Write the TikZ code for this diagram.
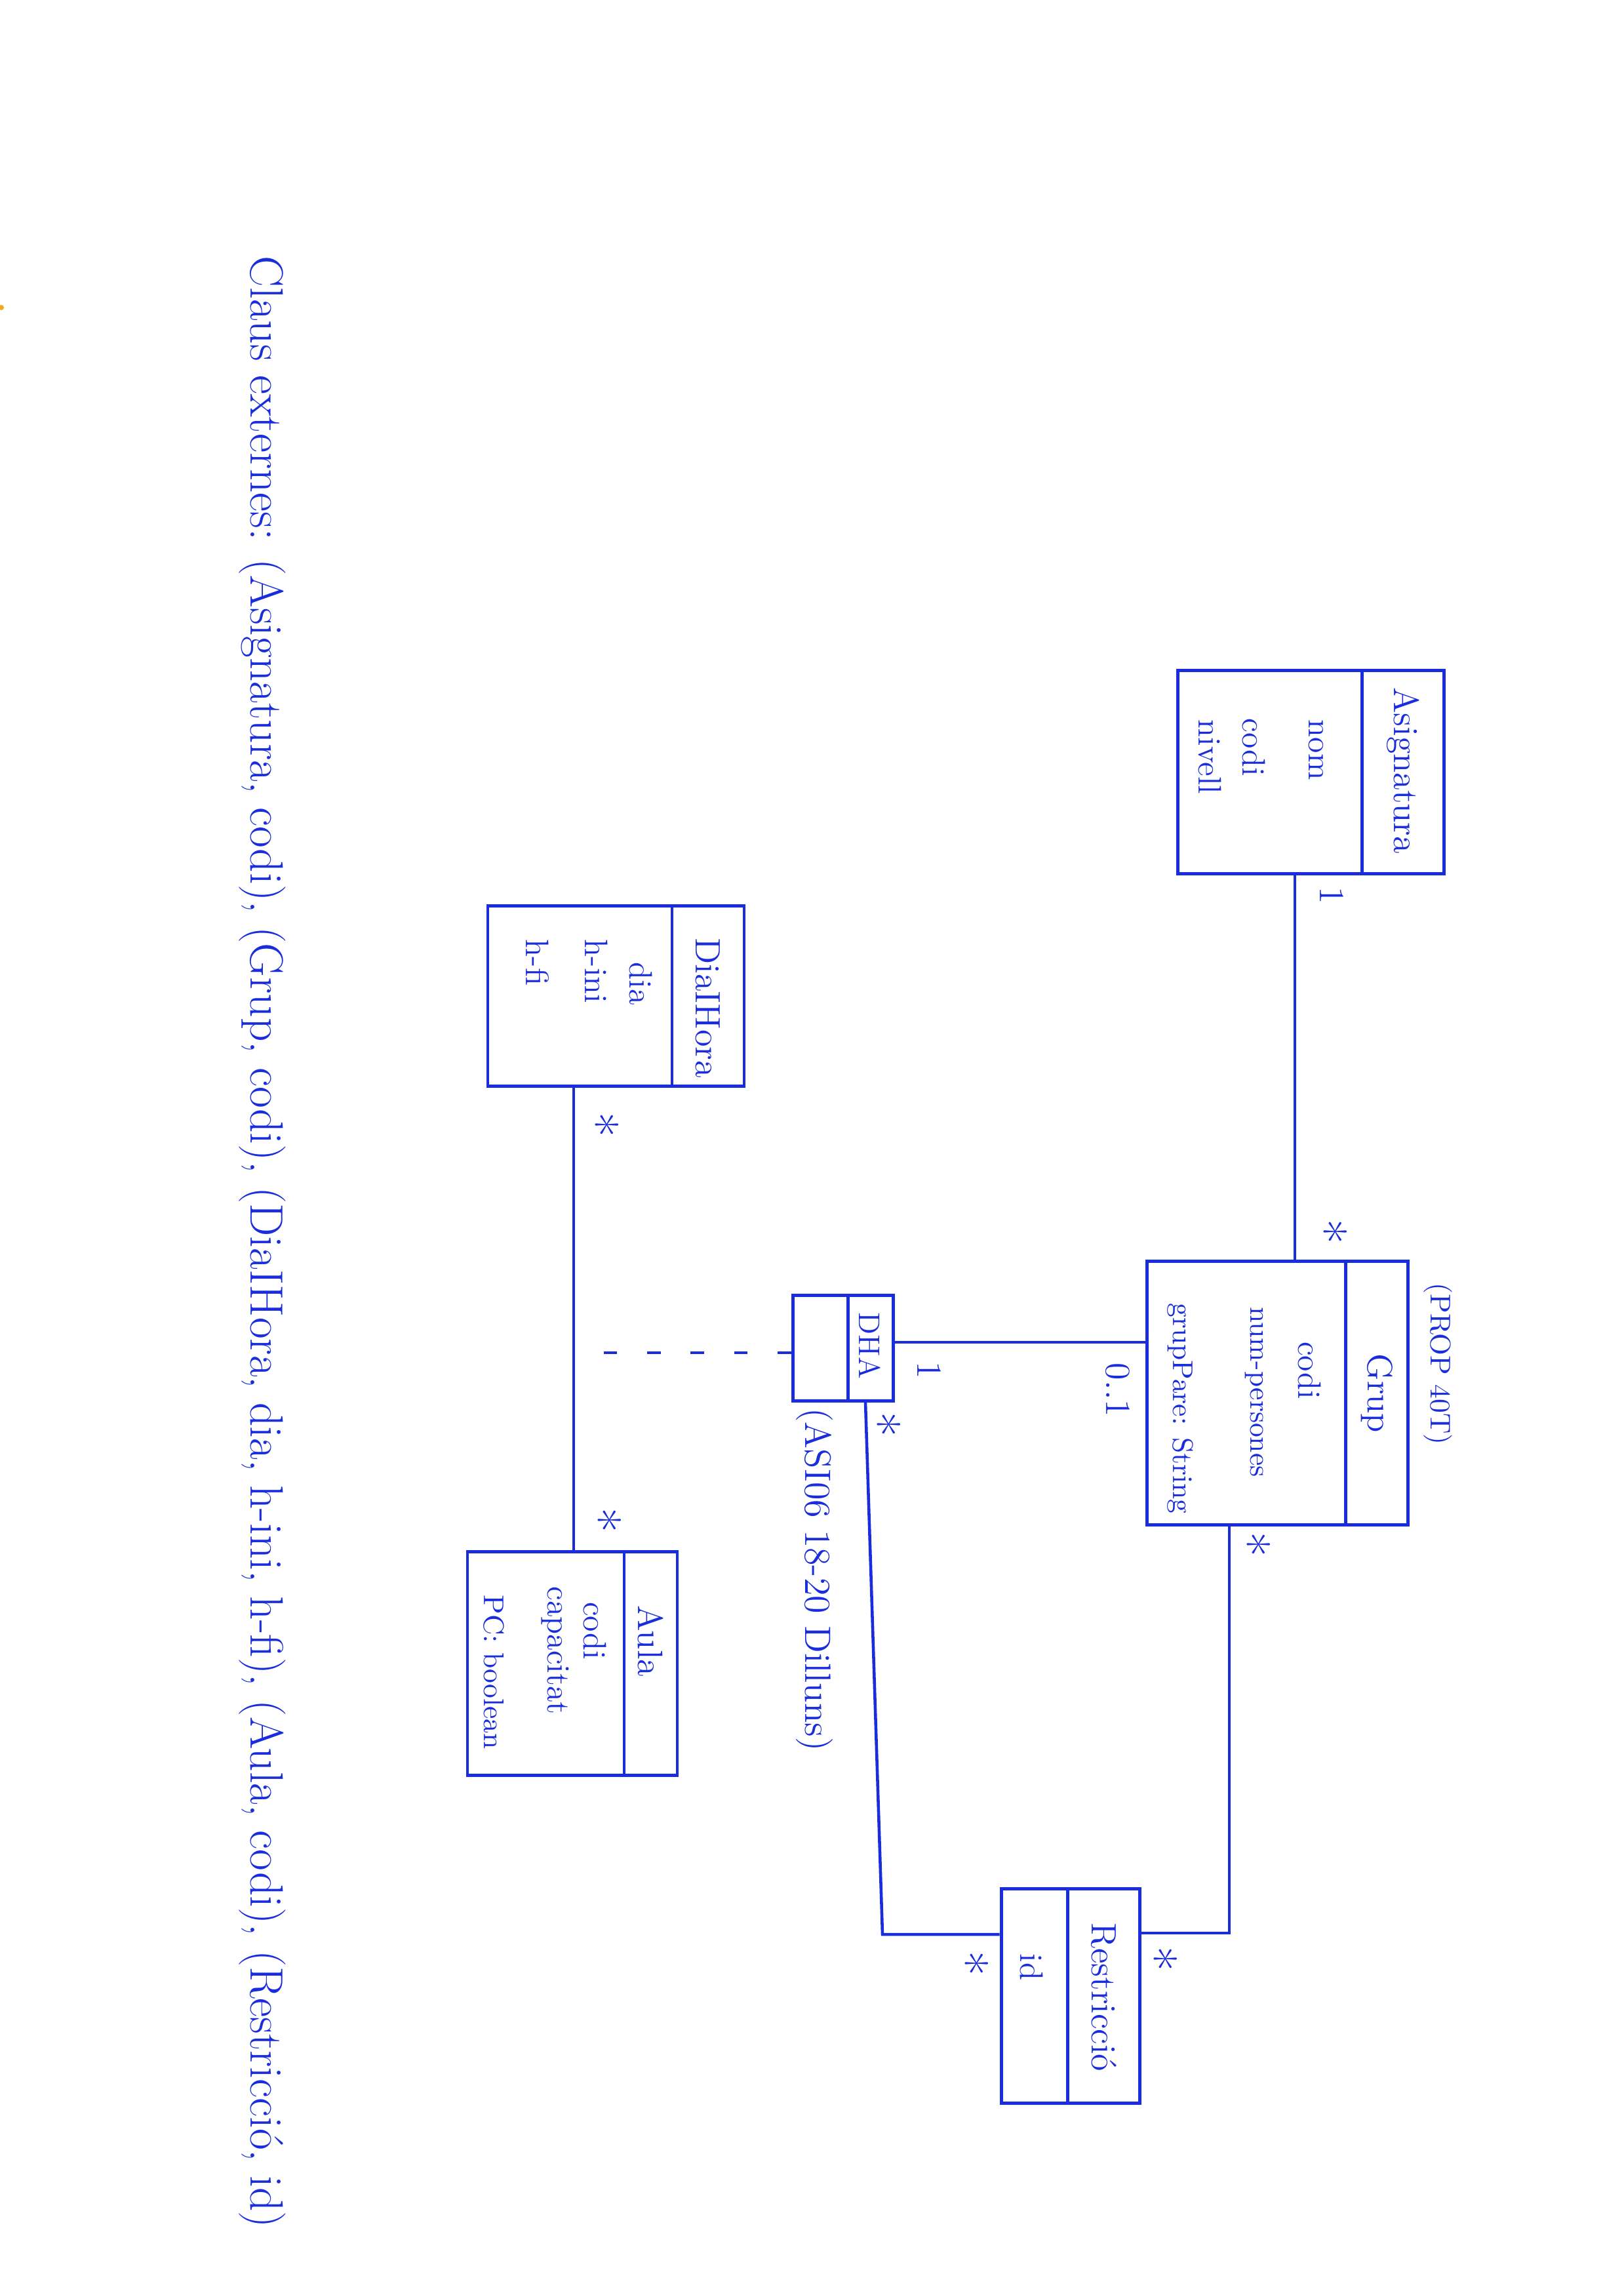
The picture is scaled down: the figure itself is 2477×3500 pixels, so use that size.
\documentclass[tikz,border=0pt]{standalone}
\usepackage{fontspec}
\usetikzlibrary{fit}
\definecolor{ink}{RGB}{25,45,220}
\definecolor{speck}{RGB}{240,170,30}
\begin{document}
\begin{tikzpicture}[x=0.0084785cm,y=-0.0084785cm,
  box/.style={draw=ink, line width=1.2pt, inner sep=0pt},
  conn/.style={draw=ink, line width=1.1pt},
  dashconn/.style={draw=ink, line width=1.1pt, dash pattern=on 5pt off 11pt},
  cname/.style={text=ink, rotate=-90, inner sep=0pt, font=\fontsize{13}{15}\selectfont},
  attr/.style={text=ink, rotate=-90, inner sep=0pt, font=\fontsize{12}{14}\selectfont},
  smallattr/.style={text=ink, rotate=-90, inner sep=0pt, font=\fontsize{10.5}{12}\selectfont},
  mult/.style={text=ink, rotate=-90, inner sep=0pt, font=\fontsize{13}{15}\selectfont},
  star/.style={text=ink, rotate=-90, inner sep=0pt, font=\fontsize{20}{22}\selectfont},
  note/.style={text=ink, rotate=-90, inner sep=0pt, font=\fontsize{13.5}{16}\selectfont}]
\useasboundingbox (0,0) rectangle (2477,3500);
\fill[white] (0,0) rectangle (2477,3500);
\fill[speck] (2,469) circle (4);

% ---- class boxes ----
\node[box, fit={(1796,1022) (2202,1332)}] (asig) {};
\node[box, fit={(744,1381) (1135,1656)}] (diah) {};
\node[box, fit={(1749,1923) (2147,2325)}] (grup) {};
\node[box, fit={(1209,1975) (1362,2136)}] (dha) {};
\node[box, fit={(713,2366) (1033,2707)}] (aula) {};
\node[box, fit={(1527,2880) (1738,3207)}] (restr) {};

% dividers
\coordinate (dvA) at (2077,0);
\coordinate (dvD) at (1025,0);
\coordinate (dvG) at (2052,0);
\coordinate (dvH) at (1293,0);
\coordinate (dvU) at (952,0);
\coordinate (dvR) at (1628,0);
\draw[box] (asig.north -| dvA) -- (asig.south -| dvA);
\draw[box] (diah.north -| dvD) -- (diah.south -| dvD);
\draw[box] (grup.north -| dvG) -- (grup.south -| dvG);
\draw[box] (dha.north -| dvH) -- (dha.south -| dvH);
\draw[box] (aula.north -| dvU) -- (aula.south -| dvU);
\draw[box] (restr.north -| dvR) -- (restr.south -| dvR);

% ---- class names ----
\node[cname] (nAsig) at (2140,1175) {Asignatura};
\node[cname] (nDiah) at (1080,1537) {DiaIHora};
\node[cname] (nGrup) at (2100,2125) {Grup};
\node[cname, font=\fontsize{11}{13}\selectfont] (nDha) at (1327,2052) {DHA};
\node[cname] (nAula) at (992,2503) {Aula};
\node[cname] (nRestr) at (1684,3046) {Restricció};

% ---- attributes ----
\node[attr, anchor=west] (aNom) at (2007,1097) {nom};
\node[attr, anchor=west] (aCodiA) at (1912,1095) {codi};
\node[attr, anchor=west] (aNivell) at (1845,1097) {nivell};

\node[attr] (aCodiG) at (1997,2090) {codi};
\node[smallattr] (aNum) at (1913,2123) {num-persones};
\node[smallattr] (aPare) at (1800,2148) {grupPare: String};

\node[attr] (aDia) at (977,1500) {dia};
\node[attr, anchor=west] (aHini) at (910,1432) {h-ini};
\node[attr, anchor=west] (aHfi) at (820,1432) {h-fi};

\node[attr] (aCodiU) at (907,2487) {codi};
\node[attr] (aCap) at (847,2517) {capacitat};
\node[smallattr] (aPC) at (753,2550) {PC: boolean};

\node[attr] (aId) at (1573,3000) {id};

% ---- connectors ----
\coordinate (xAG) at (1975,0);
\draw[conn] (asig.south -| xAG) -- (grup.north -| xAG);

\coordinate (yDG) at (0,2047);
\draw[conn] (dha.east |- yDG) -- (grup.west |- yDG);

\coordinate (xDU) at (875,0);
\draw[conn] (diah.south -| xDU) -- (aula.north -| xDU);

\coordinate (dashEnd) at (875,2063);
\draw[dashconn] (dha.west |- dashEnd) -- (dashEnd);

\coordinate (xGR) at (1875,0);
\coordinate (cGR) at (1875,2948);
\draw[conn] (grup.south -| xGR) -- (cGR) -- (restr.east |- cGR);

\coordinate (xHR) at (1320,0);
\coordinate (cHR) at (1346,2950);
\draw[conn] (dha.south -| xHR) -- (cHR) -- (restr.west |- cHR);

% ---- multiplicities ----
\node[mult] (m1) at (2031,1366) {1};
\node[star] (m2) at (2024,1878) {*};
\node[mult] (m3) at (1417,2090) {1};
\node[mult] (m4) at (1705,2120) {0..1};
\node[star] (m5) at (1907,2355) {*};
\node[star] (m6) at (1343,2172) {*};
\node[star] (m7) at (913,1715) {*};
\node[star] (m8) at (917,2318) {*};
\node[star] (m9) at (1765,2987) {*};
\node[star] (m10) at (1477,2994) {*};

% ---- notes ----
\node[note, font=\fontsize{10.5}{12}\selectfont] (prop) at (2193,2080) {(PROP 40T)};
\node[note] (asi) at (1242,2409) {(ASI06 18-20 Dilluns)};

\node[note, anchor=west, font=\fontsize{17.2}{20}\selectfont] (claus) at (400,390)
  {Claus externes: (Asignatura, codi), (Grup, codi), (DiaIHora, dia, h-ini, h-fi), (Aula, codi), (Restricció, id)};
\end{tikzpicture}
\end{document}
